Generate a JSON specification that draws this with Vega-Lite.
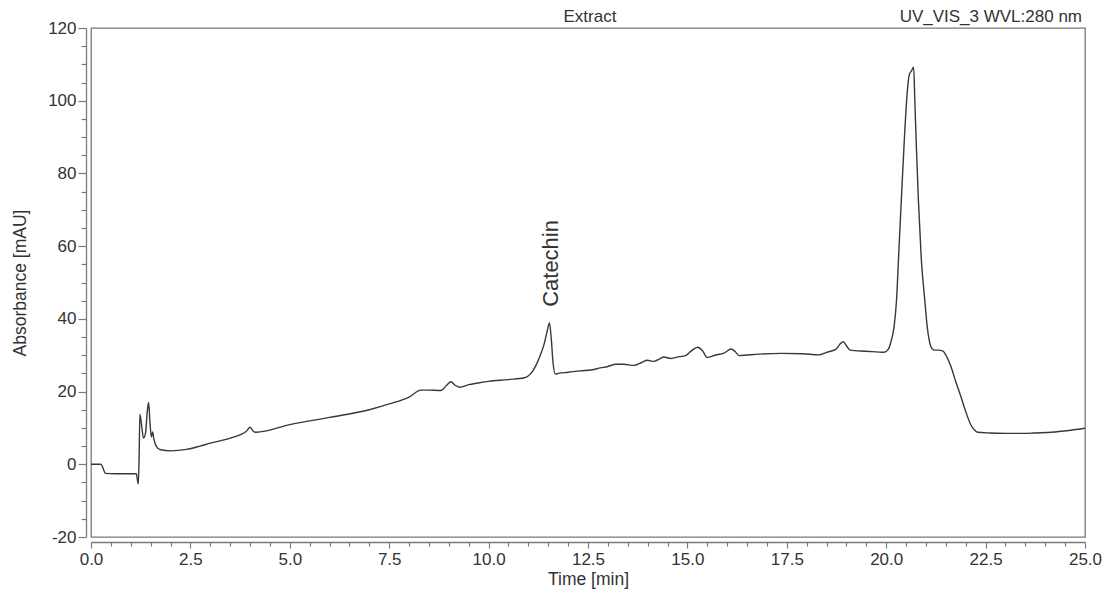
{
  "$schema": "https://vega.github.io/schema/vega-lite/v6.json",
  "width": 994,
  "height": 509,
  "autosize": {"type": "none"},
  "padding": {"left": 91, "top": 28, "right": 20, "bottom": 53},
  "background": "white",
  "config": {
    "font": "Liberation Sans",
    "view": {"stroke": "#7a7a7a", "strokeWidth": 1.3},
    "axis": {
      "domainColor": "#7a7a7a",
      "tickColor": "#7a7a7a",
      "domainWidth": 1.3,
      "tickWidth": 1.2,
      "labelColor": "#333333",
      "titleColor": "#333333",
      "labelFont": "Liberation Sans",
      "titleFont": "Liberation Sans",
      "labelFontSize": 17,
      "titleFontSize": 17.5,
      "titleFontWeight": "normal",
      "grid": false,
      "labelFlush": false,
      "labelOverlap": false
    }
  },
  "encoding": {
    "x": {
      "field": "t",
      "type": "quantitative",
      "scale": {"domain": [0, 25], "nice": false, "zero": false},
      "axis": {
        "title": "Time [min]",
        "offset": 5,
        "values": [0, 0.5, 1, 1.5, 2, 2.5, 3, 3.5, 4, 4.5, 5, 5.5, 6, 6.5, 7, 7.5, 8, 8.5, 9, 9.5, 10, 10.5, 11, 11.5, 12, 12.5, 13, 13.5, 14, 14.5, 15, 15.5, 16, 16.5, 17, 17.5, 18, 18.5, 19, 19.5, 20, 20.5, 21, 21.5, 22, 22.5, 23, 23.5, 24, 24.5, 25],
        "labelExpr": "datum.value % 2.5 === 0 ? format(datum.value, '.1f') : ''",
        "tickSize": {"condition": {"test": "datum.value % 2.5 === 0", "value": 6}, "value": 4},
        "labelPadding": 3,
        "titlePadding": 3
      }
    },
    "y": {
      "field": "v",
      "type": "quantitative",
      "scale": {"domain": [-20, 120], "nice": false, "zero": false},
      "axis": {
        "title": "Absorbance [mAU]",
        "offset": 5,
        "values": [-20, -15, -10, -5, 0, 5, 10, 15, 20, 25, 30, 35, 40, 45, 50, 55, 60, 65, 70, 75, 80, 85, 90, 95, 100, 105, 110, 115, 120],
        "labelExpr": "datum.value % 20 === 0 ? '' + datum.value : ''",
        "tickSize": {"condition": {"test": "datum.value % 20 === 0", "value": 8}, "value": 5},
        "labelPadding": 2,
        "titlePadding": 18
      }
    }
  },
  "layer": [
    {
      "data": {
        "values": [
          {"t": 0.00, "v": 0.0},
          {"t": 0.25, "v": 0.0},
          {"t": 0.30, "v": -1.0},
          {"t": 0.36, "v": -2.5},
          {"t": 0.60, "v": -2.6},
          {"t": 1.00, "v": -2.6},
          {"t": 1.14, "v": -2.6},
          {"t": 1.17, "v": -4.5},
          {"t": 1.19, "v": -5.4},
          {"t": 1.21, "v": 2.0},
          {"t": 1.23, "v": 13.8},
          {"t": 1.27, "v": 11.0},
          {"t": 1.32, "v": 7.2},
          {"t": 1.37, "v": 8.5},
          {"t": 1.42, "v": 15.0},
          {"t": 1.45, "v": 17.0},
          {"t": 1.48, "v": 12.0},
          {"t": 1.52, "v": 7.5},
          {"t": 1.55, "v": 8.9},
          {"t": 1.58, "v": 7.0},
          {"t": 1.65, "v": 4.8},
          {"t": 1.75, "v": 4.0},
          {"t": 2.00, "v": 3.7},
          {"t": 2.40, "v": 4.1},
          {"t": 2.74, "v": 5.0},
          {"t": 3.00, "v": 5.8},
          {"t": 3.50, "v": 7.2},
          {"t": 3.90, "v": 9.0},
          {"t": 4.00, "v": 10.2},
          {"t": 4.10, "v": 8.9},
          {"t": 4.15, "v": 8.8},
          {"t": 5.00, "v": 10.9},
          {"t": 6.00, "v": 12.9},
          {"t": 7.00, "v": 15.0},
          {"t": 7.50, "v": 16.6},
          {"t": 8.00, "v": 18.5},
          {"t": 8.30, "v": 20.4},
          {"t": 8.50, "v": 20.4},
          {"t": 8.80, "v": 20.3},
          {"t": 8.95, "v": 21.8},
          {"t": 9.05, "v": 22.7},
          {"t": 9.15, "v": 21.8},
          {"t": 9.27, "v": 21.2},
          {"t": 9.50, "v": 21.9},
          {"t": 9.70, "v": 22.3},
          {"t": 10.00, "v": 22.8},
          {"t": 10.50, "v": 23.3},
          {"t": 10.90, "v": 23.8},
          {"t": 11.10, "v": 25.5},
          {"t": 11.20, "v": 27.4},
          {"t": 11.30, "v": 30.0},
          {"t": 11.40, "v": 33.2},
          {"t": 11.47, "v": 36.5},
          {"t": 11.53, "v": 38.9},
          {"t": 11.58, "v": 34.0},
          {"t": 11.62, "v": 28.0},
          {"t": 11.68, "v": 24.8},
          {"t": 11.75, "v": 25.0},
          {"t": 12.00, "v": 25.3},
          {"t": 12.31, "v": 25.7},
          {"t": 12.60, "v": 26.0},
          {"t": 12.81, "v": 26.5},
          {"t": 13.00, "v": 26.9},
          {"t": 13.20, "v": 27.5},
          {"t": 13.40, "v": 27.5},
          {"t": 13.65, "v": 27.2},
          {"t": 13.85, "v": 28.0},
          {"t": 13.99, "v": 28.6},
          {"t": 14.16, "v": 28.3},
          {"t": 14.30, "v": 29.0},
          {"t": 14.41, "v": 29.5},
          {"t": 14.58, "v": 29.1},
          {"t": 14.80, "v": 29.6},
          {"t": 14.95, "v": 29.9},
          {"t": 15.10, "v": 31.2},
          {"t": 15.26, "v": 32.2},
          {"t": 15.38, "v": 31.2},
          {"t": 15.50, "v": 29.4},
          {"t": 15.70, "v": 30.0},
          {"t": 15.92, "v": 30.6},
          {"t": 16.10, "v": 31.7},
          {"t": 16.20, "v": 31.0},
          {"t": 16.30, "v": 29.9},
          {"t": 16.80, "v": 30.3},
          {"t": 17.35, "v": 30.5},
          {"t": 17.90, "v": 30.4},
          {"t": 18.31, "v": 30.1},
          {"t": 18.50, "v": 30.8},
          {"t": 18.73, "v": 31.6},
          {"t": 18.85, "v": 33.2},
          {"t": 18.92, "v": 33.7},
          {"t": 19.00, "v": 32.6},
          {"t": 19.09, "v": 31.4},
          {"t": 19.50, "v": 31.1},
          {"t": 19.95, "v": 30.8},
          {"t": 20.05, "v": 31.6},
          {"t": 20.12, "v": 33.7},
          {"t": 20.20, "v": 38.0},
          {"t": 20.26, "v": 45.2},
          {"t": 20.32, "v": 59.0},
          {"t": 20.38, "v": 72.6},
          {"t": 20.45, "v": 88.0},
          {"t": 20.52, "v": 101.0},
          {"t": 20.58, "v": 107.1},
          {"t": 20.64, "v": 108.3},
          {"t": 20.69, "v": 109.2},
          {"t": 20.72, "v": 100.0},
          {"t": 20.76, "v": 87.0},
          {"t": 20.81, "v": 72.6},
          {"t": 20.88, "v": 57.0},
          {"t": 20.97, "v": 45.2},
          {"t": 21.03, "v": 38.0},
          {"t": 21.08, "v": 34.2},
          {"t": 21.14, "v": 32.0},
          {"t": 21.21, "v": 31.4},
          {"t": 21.30, "v": 31.4},
          {"t": 21.42, "v": 31.2},
          {"t": 21.50, "v": 30.0},
          {"t": 21.63, "v": 26.8},
          {"t": 21.75, "v": 22.7},
          {"t": 21.88, "v": 18.6},
          {"t": 22.00, "v": 14.5},
          {"t": 22.13, "v": 10.8},
          {"t": 22.22, "v": 9.4},
          {"t": 22.30, "v": 8.8},
          {"t": 22.60, "v": 8.6},
          {"t": 23.00, "v": 8.5},
          {"t": 23.30, "v": 8.5},
          {"t": 23.70, "v": 8.6},
          {"t": 24.14, "v": 8.8},
          {"t": 24.60, "v": 9.3},
          {"t": 25.00, "v": 9.9}
        ]
      },
      "mark": {"type": "line", "color": "#383838", "strokeWidth": 1.4, "interpolate": "monotone"}
    },
    {
      "data": {"values": [{"t": 11.56, "v": 43.3, "label": "Catechin"}]},
      "mark": {"type": "text", "angle": 270, "align": "left", "baseline": "middle", "fontSize": 22, "color": "#333333", "font": "Liberation Sans"},
      "encoding": {"text": {"field": "label"}}
    },
    {
      "data": {"values": [{"t": 12.55, "v": 120, "label": "Extract"}]},
      "mark": {"type": "text", "align": "center", "baseline": "alphabetic", "dy": -6, "fontSize": 17, "color": "#333333", "font": "Liberation Sans"},
      "encoding": {"text": {"field": "label"}}
    },
    {
      "data": {"values": [{"t": 25, "v": 120, "label": "UV_VIS_3 WVL:280 nm"}]},
      "mark": {"type": "text", "align": "right", "baseline": "alphabetic", "dy": -6, "dx": -3, "fontSize": 17, "color": "#333333", "font": "Liberation Sans"},
      "encoding": {"text": {"field": "label"}}
    }
  ]
}
